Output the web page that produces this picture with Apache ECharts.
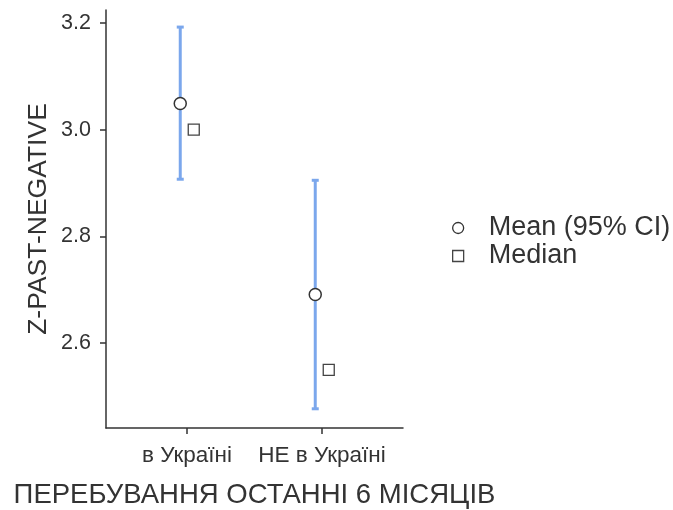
<!DOCTYPE html>
<html>
<head>
<meta charset="utf-8">
<script src="https://cdn.jsdelivr.net/npm/echarts@6/dist/echarts.min.js"></script>
<style>
html,body{margin:0;padding:0;background:#fff;}
#chart{width:673px;height:510px;}
</style>
</head>
<body>
<div id="chart"></div>
<script>
const categories = ['в Україні', 'НЕ в Україні'];
const meanValues = [3.049, 2.691];
const ciLower = [2.907, 2.477];
const ciUpper = [3.192, 2.905];
const medianValues = [3.0, 2.55];
const yTicks = [2.6, 2.8, 3.0, 3.2];

const DODGE = 0.05;
const FONT = 'Liberation Sans, Arial, sans-serif';
const TXT = '#333333';

const catPos = categories.map((c, i) => i + 1);
const meanData = categories.map((c, i) => [catPos[i] - DODGE, meanValues[i]]);
const medianData = categories.map((c, i) => [catPos[i] + DODGE, medianValues[i]]);
const ciData = categories.map((c, i) => [catPos[i] - DODGE, ciLower[i], ciUpper[i]]);

const chart = echarts.init(document.getElementById('chart'), null, {renderer: 'canvas'});
chart.setOption({
  animation: false,
  backgroundColor: '#ffffff',
  grid: {left: 106, top: 10, right: 270, bottom: 82, containLabel: false, outerBoundsMode: 'none'},
  legend: {
    left: 452, top: 214,
    orient: 'vertical',
    itemWidth: 11, itemHeight: 11, itemGap: 0, padding: 0,
    symbolKeepAspect: true,
    textStyle: {fontFamily: FONT, fontSize: 27, color: TXT, lineHeight: 28, padding: [0, 0, 0, 20]},
    data: [
      {name: 'Mean (95% CI)', icon: 'circle', itemStyle: {color: '#fff', borderColor: '#333', borderWidth: 1.3}},
      {name: 'Median', icon: 'rect', itemStyle: {color: '#fff', borderColor: '#444', borderWidth: 1.3}}
    ]
  },
  xAxis: {
    type: 'value', min: 0.4, max: 2.6,
    name: 'ПЕРЕБУВАННЯ ОСТАННІ 6 МІСЯЦІВ',
    nameLocation: 'middle', nameGap: 53,
    nameTextStyle: {fontFamily: FONT, fontSize: 27.5, color: TXT},
    splitLine: {show: false},
    axisLine: {show: true, onZero: false, lineStyle: {color: '#333', width: 1.5}},
    axisTick: {show: true, length: 6, customValues: catPos, lineStyle: {color: '#333', width: 1.5}},
    axisLabel: {
      customValues: catPos, margin: 16,
      fontFamily: FONT, fontSize: 22.5, color: TXT,
      formatter: v => categories[Math.round(v) - 1] || ''
    }
  },
  yAxis: {
    type: 'value', min: 2.441, max: 3.224,
    name: 'Z-PAST-NEGATIVE',
    nameLocation: 'middle', nameGap: 54, nameRotate: 90,
    nameTextStyle: {fontFamily: FONT, fontSize: 26.5, color: TXT},
    splitLine: {show: false},
    axisLine: {show: true, onZero: false, lineStyle: {color: '#333', width: 1.5}},
    axisTick: {show: true, length: 6, customValues: yTicks, lineStyle: {color: '#333', width: 1.5}},
    axisLabel: {
      customValues: yTicks, margin: 15,
      fontFamily: FONT, fontSize: 21.5, color: TXT,
      formatter: v => v.toFixed(1)
    }
  },
  series: [
    {
      type: 'custom',
      name: 'ci',
      data: ciData,
      encode: {x: 0, y: [1, 2]},
      z: 2,
      renderItem: function (params, api) {
        const x = api.value(0);
        const lo = api.coord([x, api.value(1)]);
        const hi = api.coord([x, api.value(2)]);
        const hw = 3.5;
        const style = {stroke: '#7ba7ec', lineWidth: 3, fill: null};
        return {
          type: 'group',
          children: [
            {type: 'line', shape: {x1: lo[0], y1: lo[1], x2: hi[0], y2: hi[1]}, style: style},
            {type: 'line', shape: {x1: lo[0] - hw, y1: lo[1], x2: lo[0] + hw, y2: lo[1]}, style: style},
            {type: 'line', shape: {x1: hi[0] - hw, y1: hi[1], x2: hi[0] + hw, y2: hi[1]}, style: style}
          ]
        };
      }
    },
    {
      type: 'scatter', name: 'Mean (95% CI)', data: meanData,
      symbol: 'circle', symbolSize: 12, z: 5,
      itemStyle: {color: '#fff', borderColor: '#333', borderWidth: 1.5, opacity: 1}
    },
    {
      type: 'scatter', name: 'Median', data: medianData,
      symbol: 'rect', symbolSize: 11, z: 5,
      itemStyle: {color: '#fff', borderColor: '#444', borderWidth: 1.3, opacity: 1}
    }
  ]
});
</script>
</body>
</html>
